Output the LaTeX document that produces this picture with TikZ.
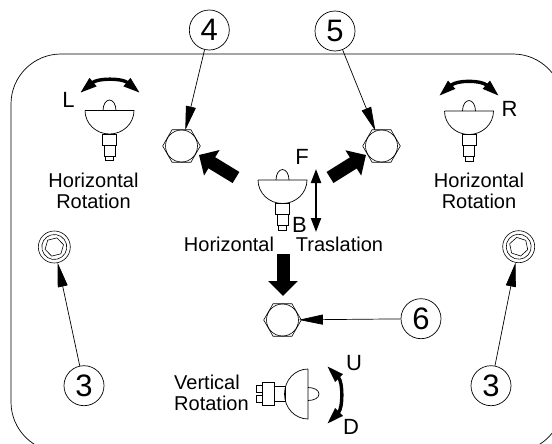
\documentclass[tikz,border=0pt]{standalone}
\usepackage{fontspec}
\setmainfont{Liberation Sans}
\usetikzlibrary{arrows.meta}
\tikzset{
  num/.style={draw,circle,minimum size=40pt,inner sep=0pt,line width=.7pt,font=\fontsize{31}{31}\selectfont},
  nut/.style={draw,circle,minimum size=32pt,inner sep=0pt,line width=.6pt},
  sock/.style={draw,circle,minimum size=32pt,inner sep=0pt,line width=.6pt},
  lbl/.style={inner sep=0pt,font=\fontsize{20}{21}\selectfont,align=center},
  let/.style={inner sep=0pt,font=\fontsize{22}{22}\selectfont},
  lead/.style={line width=.7pt,-{Triangle[length=24pt,width=10pt]}},
  fat/.style={line width=13pt,-{Triangle[length=15pt,width=29pt]}},
  swing/.style={line width=3.4pt,{Triangle[length=17pt,width=10pt]}-{Triangle[length=17pt,width=10pt]}},
  slide/.style={line width=2.2pt,{Triangle[length=14pt,width=10pt]}-{Triangle[length=14pt,width=10pt]}},
  lampline/.style={line width=.7pt},
  lamp/.pic={
    \draw[lampline] (-24.5,0) -- (24.5,0) .. controls (24.5,13) and (13.5,23.5) .. (0,23.5) .. controls (-13.5,23.5) and (-24.5,13) .. (-24.5,0);
    \draw[lampline] (-6.5,0) .. controls (-6.5,-6) and (-3.5,-10.5) .. (0,-10.5) .. controls (3.5,-10.5) and (6.5,-6) .. (6.5,0);
    \draw[lampline] (-7,23.5) rectangle (7,34.5);
    \draw[lampline] (-5.5,34.5) rectangle (5.5,45.5);
    \draw[lampline] (-4,45.5) rectangle (4,50);
  },
  hexa/.pic={
    \draw[line width=.6pt] (0:18.8) -- (60:18.8) -- (120:18.8) -- (180:18.8) -- (240:18.8) -- (300:18.8) -- cycle;
  },
  hexb/.pic={
    \draw[line width=.6pt] (0:9.5) -- (60:9.5) -- (120:9.5) -- (180:9.5) -- (240:9.5) -- (300:9.5) -- cycle;
    \draw[line width=.6pt] (0,0) circle[radius=12.5];
  }
}
\begin{document}
\begin{tikzpicture}[x=1pt,y=-1pt]
\clip (0,0) rectangle (552,444);
\draw[line width=.7pt,rounded corners=50pt] (11,54) rectangle (563,452);
% lamps
\pic at (109.5,110.5) {lamp};
\pic at (282.5,180) {lamp};
\pic at (469,111) {lamp};
% side lamp
\draw[lampline] (308,369) -- (308,419) .. controls (295,419) and (284.5,408) .. (284.5,394) .. controls (284.5,380) and (295,369) .. (308,369);
\draw[lampline] (308,387.5) .. controls (314,387.5) and (319,390) .. (319,394) .. controls (319,398) and (314,400.5) .. (308,400.5);
\draw[lampline] (274.7,386.5) rectangle (285,401.5);
\draw[lampline] (262,382) rectangle (274.7,405.7);
\draw[lampline] (256,385) rectangle (262,392);
\draw[lampline] (256,395) rectangle (262,402);
% fasteners
\node[nut] (h4) at (181.5,146) {};
\pic at (181.5,146) {hexa};
\node[nut] (h5) at (381.5,146) {};
\pic at (381.5,146) {hexa};
\node[nut] (h6) at (282.5,320) {};
\pic at (282.5,320) {hexa};
\node[sock] (s1) at (54.3,247) {};
\pic[rotate=14] at (54.3,247) {hexb};
\node[sock] (s2) at (518.7,246.7) {};
\pic[rotate=-18] at (518.7,246.7) {hexb};
% numbers
\node[num] (n4) at (209.3,30) {4};
\node[num] (n5) at (335,31) {5};
\node[num] (n6) at (421,318.7) {6};
\node[num] (n3a) at (84,385.7) {3};
\node[num] (n3b) at (491,385.7) {3};
\draw[lead] (n4) -- (h4);
\draw[lead] (n5) -- (h5);
\draw[lead] (n6) -- (h6);
\draw[lead] (n3a) -- (s1);
\draw[lead] (n3b) -- (s2);
% free arrows
\coordinate (fa1) at (236,177.5); \coordinate (fa2) at (199,155);
\coordinate (fb1) at (330,177.5); \coordinate (fb2) at (366,155);
\coordinate (fc1) at (283,254); \coordinate (fc2) at (283,296);
\draw[fat] (fa1) -- (fa2);
\draw[fat] (fb1) -- (fb2);
\draw[fat] (fc1) -- (fc2);
\coordinate (t1) at (316,169); \coordinate (t2) at (316,232);
\draw[slide] (t1) -- (t2);
\coordinate (ra) at (80,93); \coordinate (rb) at (140,93);
\draw[swing] (ra) .. controls (98,78) and (122,78) .. (rb);
\coordinate (rc) at (439,96); \coordinate (rd) at (499,96);
\draw[swing] (rc) .. controls (457,80) and (481,80) .. (rd);
\coordinate (re) at (327,366); \coordinate (rf) at (327,424);
\draw[swing] (re) .. controls (343,382) and (343,408) .. (rf);
% labels
\node[let] (lL) at (68.5,99.5) {L};
\node[let] (lF) at (302,156.5) {F};
\node[let] (lB) at (299.5,224.5) {B};
\node[let] (lR) at (509.5,108.5) {R};
\node[let] (lU) at (354,363) {U};
\node[let] (lD) at (351,426.5) {D};
\node[lbl] (tl) at (93.5,190.5) {Horizontal\\Rotation};
\node[lbl] (tr) at (479,190.5) {Horizontal\\Rotation};
\node[lbl,anchor=base] (tc1) at (229,251.7) {Horizontal};
\node[lbl,anchor=base] (tc2) at (339.5,251.7) {Traslation};
\node[lbl,align=left,anchor=west] (tv) at (174,393) {Vertical\\Rotation};
\end{tikzpicture}
\end{document}
